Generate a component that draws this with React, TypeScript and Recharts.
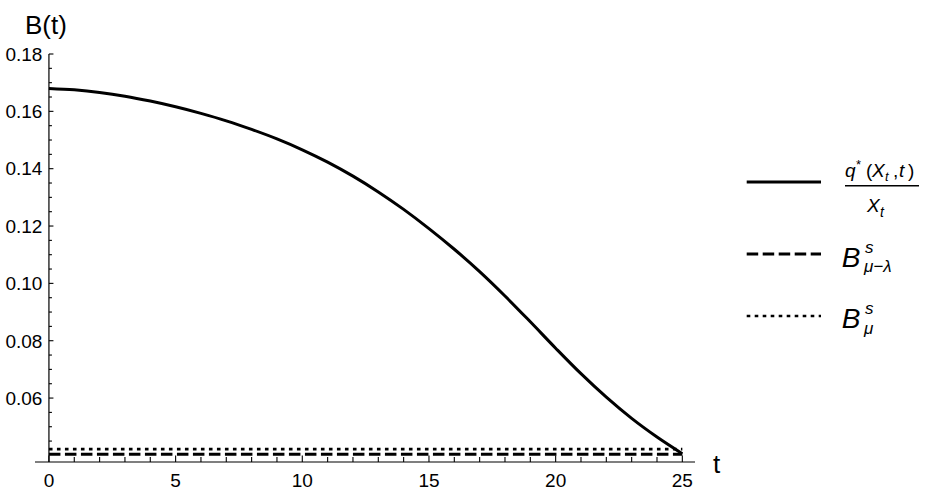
import { LineChart, Line, XAxis, YAxis, ReferenceLine, Legend } from "recharts";

// values
const tValues = [
  0, 1, 2, 3, 4, 5, 6, 7, 8, 9, 10, 11, 12, 13, 14, 15, 16, 17, 18, 19, 20,
  21, 22, 23, 24, 25,
];
const ratioValues = [
  0.168, 0.1675, 0.1666, 0.1653, 0.1636, 0.1616, 0.1593, 0.1567, 0.1537,
  0.1504, 0.1466, 0.1423, 0.1374, 0.1319, 0.1258, 0.1191, 0.1119, 0.1041,
  0.0956, 0.0866, 0.0774, 0.0685, 0.0603, 0.0529, 0.0464, 0.0406,
];
const bMuLambdaLevel = 0.0404;
const bMuLevel = 0.0422;

const xTicks = [
  0, 1, 2, 3, 4, 5, 6, 7, 8, 9, 10, 11, 12, 13, 14, 15, 16, 17, 18, 19, 20,
  21, 22, 23, 24, 25,
];
const xMajorTicks = [0, 5, 10, 15, 20, 25];
const yTicks = [
  0.045, 0.05, 0.055, 0.06, 0.065, 0.07, 0.075, 0.08, 0.085, 0.09, 0.095, 0.1,
  0.105, 0.11, 0.115, 0.12, 0.125, 0.13, 0.135, 0.14, 0.145, 0.15, 0.155, 0.16,
  0.165, 0.17, 0.175, 0.18,
];
const yMajorTicks = [0.06, 0.08, 0.1, 0.12, 0.14, 0.16, 0.18];

const chartData = tValues.map((t, i) => ({
  t,
  ratio: ratioValues[i],
  bMuLambda: bMuLambdaLevel,
  bMu: bMuLevel,
}));

const WIDTH = 926;
const HEIGHT = 494;
const Y_AXIS_W = 35;
const X_AXIS_H = 32;
const MARGIN = { top: 54, right: 231, bottom: 0, left: 0 };
const X_DOMAIN: [number, number] = [-0.55, 25.5];
const Y_DOMAIN: [number, number] = [0.0377, 0.18];
const PLOT_W = WIDTH - Y_AXIS_W - MARGIN.right;
// the vertical axis sits at t = 0, not at the left edge of the plot
const Y_AXIS_SHIFT = ((0 - X_DOMAIN[0]) / (X_DOMAIN[1] - X_DOMAIN[0])) * PLOT_W;

const FONT = "'Liberation Sans', Arial, Helvetica, sans-serif";

const XTick = (props: any) => {
  const { x, y, payload } = props;
  const major = xMajorTicks.includes(payload.value);
  return (
    <g>
      <line x1={x} x2={x} y1={y} y2={y - (major ? 6.5 : 5)} stroke="#000" strokeWidth={1.1} />
      {major && (
        <text x={x} y={y + 25} textAnchor="middle" fontSize={19} fontFamily={FONT} fill="#000">
          {payload.value}
        </text>
      )}
    </g>
  );
};

const YTick = (props: any) => {
  const { x, y, payload } = props;
  const ax = x + Y_AXIS_SHIFT;
  const major = yMajorTicks.includes(payload.value);
  return (
    <g>
      <line x1={ax} x2={ax + (major ? 4.5 : 3)} y1={y} y2={y} stroke="#000" strokeWidth={1.1} />
      {major && (
        <text x={ax - 6.5} y={y + 6.8} textAnchor="end" fontSize={19} fontFamily={FONT} fill="#000">
          {payload.value.toFixed(2)}
        </text>
      )}
    </g>
  );
};

const XLabel = (props: any) => {
  const { viewBox } = props;
  return (
    <text x={viewBox.x + viewBox.width + 18} y={viewBox.y + 11} fontSize={26} fontFamily={FONT} fill="#000">
      t
    </text>
  );
};

const YLabel = (props: any) => {
  const { viewBox } = props;
  return (
    <text x={viewBox.x + viewBox.width - 10} y={viewBox.y - 20} fontSize={26} fontFamily={FONT} fill="#000">
      B(t)
    </text>
  );
};

const legendRows = [
  { key: "ratio", y: 32 },
  { key: "bMuLambda", y: 104 },
  { key: "bMu", y: 166 },
];

const MathLabel = ({ k }: { k: string }) => {
  const it = { fontStyle: "italic" as const };
  if (k === "ratio") {
    return (
      <g fontFamily={FONT} fill="#000">
        <text y={27} fontSize={19}>
          <tspan x={105} {...it}>q</tspan>
          <tspan x={116} y={19} fontSize={13}>*</tspan>
          <tspan x={126} y={27}>(</tspan>
          <tspan x={132} {...it}>X</tspan>
          <tspan x={145} y={31} fontSize={13} {...it}>t</tspan>
          <tspan x={153} y={27}>,</tspan>
          <tspan x={159} {...it}>t</tspan>
          <tspan x={168}>)</tspan>
        </text>
        <line x1={105} x2={179} y1={35.7} y2={35.7} stroke="#000" strokeWidth={1.6} />
        <text y={62} fontSize={19}>
          <tspan x={127} {...it}>X</tspan>
          <tspan x={140} y={66.5} fontSize={14} {...it}>t</tspan>
        </text>
      </g>
    );
  }
  const base = k === "bMuLambda" ? 116.7 : 178.3;
  return (
    <text fontFamily={FONT} fill="#000" fontSize={28} y={base}>
      <tspan x={101.7} {...it}>B</tspan>
      <tspan x={125} y={base - 14} fontSize={17} {...it}>s</tspan>
      <tspan x={124} y={base + 5.5} fontSize={17} {...it}>
        {k === "bMuLambda" ? "μ−λ" : "μ"}
      </tspan>
    </text>
  );
};

const renderLegend = (props: any) => {
  const payload: any[] = props.payload || [];
  return (
    <svg width={186} height={200} style={{ display: "block", overflow: "visible" }}>
      {legendRows.map((row) => {
        const entry = payload.find((p) => p.dataKey === row.key) || {};
        const s = entry.payload || {};
        return (
          <g key={row.key}>
            <line
              x1={6.7}
              x2={81}
              y1={row.y}
              y2={row.y}
              stroke="#000"
              strokeWidth={s.strokeWidth || 3}
              strokeDasharray={s.strokeDasharray}
            />
            <MathLabel k={row.key} />
          </g>
        );
      })}
    </svg>
  );
};

export default function App() {
  return (
    <div style={{ position: "absolute", left: 0, top: 0, background: "#fff" }}>
      <LineChart width={WIDTH} height={HEIGHT} data={chartData} margin={MARGIN}>
        <XAxis
          dataKey="t"
          type="number"
          domain={X_DOMAIN}
          ticks={xTicks}
          interval={0}
          height={X_AXIS_H}
          tickSize={0}
          tickMargin={0}
          tickLine={false}
          tick={XTick}
          axisLine={{ stroke: "#000", strokeWidth: 1.2 }}
          label={XLabel}
        />
        <YAxis
          type="number"
          domain={Y_DOMAIN}
          ticks={yTicks}
          interval={0}
          width={Y_AXIS_W}
          tickSize={0}
          tickMargin={0}
          tickLine={false}
          tick={YTick}
          axisLine={false}
          label={YLabel}
        />
        <ReferenceLine x={0} stroke="#000" strokeWidth={1.2} />
        <Legend
          layout="horizontal"
          align="center"
          verticalAlign="middle"
          content={renderLegend}
          wrapperStyle={{ left: 740, top: 150, width: 186, height: 200 }}
        />
        <Line
          dataKey="bMuLambda"
          stroke="#000"
          strokeWidth={3}
          strokeDasharray="11.5 4.5"
          dot={false}
          activeDot={false}
          isAnimationActive={false}
        />
        <Line
          dataKey="bMu"
          stroke="#000"
          strokeWidth={2.6}
          strokeDasharray="3.6 4.4"
          dot={false}
          activeDot={false}
          isAnimationActive={false}
        />
        <Line
          dataKey="ratio"
          type="monotone"
          stroke="#000"
          strokeWidth={3}
          dot={false}
          activeDot={false}
          isAnimationActive={false}
        />
      </LineChart>
    </div>
  );
}
